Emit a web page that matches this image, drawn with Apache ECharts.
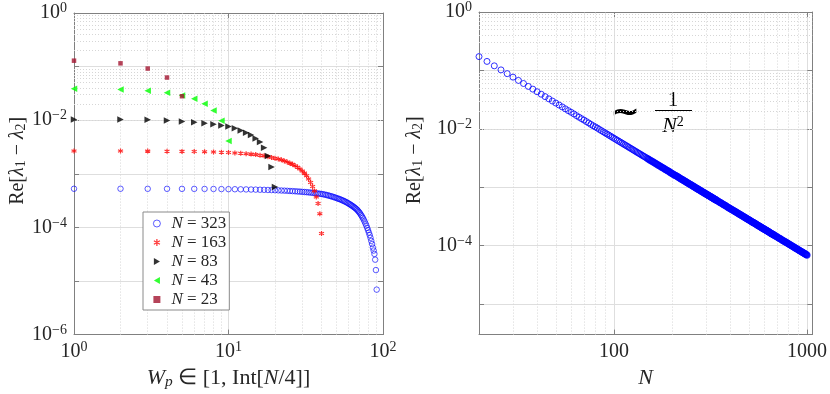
<!DOCTYPE html>
<html><head><meta charset="utf-8">
<script src="https://cdn.jsdelivr.net/npm/echarts@6/dist/echarts.min.js"></script>
<style>html,body{margin:0;padding:0;background:#fff}#c{width:830px;height:394px}</style>
</head><body><div id="c"></div>
<script>
// ---------------- data ----------------
const seriesNames = ['N = 323', 'N = 163', 'N = 83', 'N = 43', 'N = 23'];
// Re[l1-l2] vs Wp = 1,2,3,...
const gap323 = [5.26e-4,5.26e-4,5.25e-4,5.25e-4,5.24e-4,5.23e-4,5.22e-4,5.21e-4,5.19e-4,5.17e-4,
  5.15e-4,5.13e-4,5.11e-4,5.09e-4,5.07e-4,5.04e-4,5.02e-4,4.99e-4,4.97e-4,4.94e-4,
  4.91e-4,4.88e-4,4.85e-4,4.82e-4,4.78e-4,4.75e-4,4.72e-4,4.68e-4,4.65e-4,4.61e-4,
  4.57e-4,4.54e-4,4.50e-4,4.46e-4,4.42e-4,4.38e-4,4.33e-4,4.29e-4,4.24e-4,4.20e-4,
  4.15e-4,4.09e-4,4.03e-4,3.96e-4,3.89e-4,3.82e-4,3.75e-4,3.68e-4,3.61e-4,3.53e-4,
  3.46e-4,3.39e-4,3.32e-4,3.25e-4,3.17e-4,3.10e-4,3.02e-4,2.94e-4,2.86e-4,2.78e-4,
  2.70e-4,2.62e-4,2.54e-4,2.46e-4,2.38e-4,2.30e-4,2.22e-4,2.13e-4,2.03e-4,1.93e-4,
  1.83e-4,1.72e-4,1.61e-4,1.51e-4,1.40e-4,1.29e-4,1.18e-4,1.08e-4,9.8e-5,8.9e-5,
  8.0e-5,7.2e-5,6.4e-5,5.6e-5,4.9e-5,4.2e-5,3.7e-5,3.2e-5,2.5e-5,1.6e-5,6.9e-6];
const gap163 = [2.66e-3,2.66e-3,2.65e-3,2.64e-3,2.62e-3,2.60e-3,2.58e-3,2.55e-3,2.52e-3,2.49e-3,
  2.45e-3,2.41e-3,2.37e-3,2.33e-3,2.28e-3,2.22e-3,2.16e-3,2.09e-3,2.02e-3,1.95e-3,
  1.89e-3,1.82e-3,1.74e-3,1.66e-3,1.58e-3,1.50e-3,1.41e-3,1.32e-3,1.23e-3,1.13e-3,
  1.03e-3,9.2e-4,8.0e-4,6.9e-4,5.8e-4,4.8e-4,3.7e-4,2.8e-4,1.8e-4,7.7e-5];
const gap83 = [1.033e-2,1.03e-2,1.02e-2,9.9e-3,9.5e-3,9.2e-3,8.8e-3,8.4e-3,8.0e-3,7.6e-3,
  7.1e-3,6.45e-3,5.84e-3,5.27e-3,4.58e-3,3.91e-3,3.07e-3,2.14e-3,1.34e-3,5.7e-4];
const gap43 = [0.0385,0.0374,0.0353,0.0324,0.0289,0.0251,0.0202,0.0152,0.0098,0.0041];
const gap23 = [0.129,0.115,0.0919,0.0625,0.028];

// right panel: Re[l1-l2] vs N
const sizeN = [
  20,22,24,26,28,30,32,34,36,38,40,42,44,46,48,50,52,54,56,58,60,62,64,66,68,70,72,74,76,78,80,
  82,84,86,88,90,92,94,96,98,100,102,104,106,108,110,112,114,116,118,120,122,124,126,128,130,
  132,134,136,138,140,142,144,146,148,150,152,154,156,158,160,162,164,166,168,170,172,174,176,178,180,
  182,184,186,188,190,192,194,196,198,200,202,204,206,208,210,212,214,216,218,220,222,224,226,228,230,
  232,234,236,238,240,242,244,246,248,250,252,254,256,258,260,262,264,266,268,270,272,274,276,278,280,
  282,284,286,288,290,292,294,296,298,300,302,304,306,308,310,312,314,316,318,320,322,324,326,328,330,
  332,334,336,338,340,
  344,348,352,356,360,364,368,372,376,380,384,388,392,396,400,404,408,412,416,420,424,428,432,436,440,
  444,448,452,456,460,464,468,472,476,480,484,488,492,496,500,504,508,512,516,520,524,528,532,536,540,
  544,548,552,556,560,564,568,572,576,580,584,588,592,596,600,604,608,612,616,620,624,628,632,636,640,
  644,648,652,656,660,664,668,672,676,680,
  688,696,704,712,720,728,736,744,752,760,768,776,784,792,800,808,816,824,832,840,848,856,864,872,880,
  888,896,904,912,920,928,936,944,952,960,968,976,984,992,1000];
const gapVsN = [
  0.1725,0.1426,0.1198,0.1021,0.0880,0.0767,0.0674,0.0597,0.0532,0.0478,0.0431,0.0391,0.0356,0.0326,0.0299,0.0276,
  0.0255,0.0237,0.0220,0.0205,0.0192,0.0180,0.0168,0.0158,0.0149,0.0141,0.0133,0.0126,0.0119,0.0113,0.0108,
  0.0103,0.00978,0.00933,0.00891,0.00852,0.00815,0.00781,0.00749,0.00718,0.00690,0.00663,0.00638,0.00614,0.00592,0.00570,
  0.00550,0.00531,0.00513,0.00496,0.00479,0.00464,0.00449,0.00435,0.00421,0.00408,
  0.00396,0.00384,0.00373,0.00362,0.00352,0.00342,0.00333,0.00324,0.00315,0.00307,0.00299,0.00291,0.00284,0.00276,0.00270,
  0.002629,0.002565,0.002504,0.002445,0.002388,0.002332,0.002279,0.002228,0.002178,0.002130,
  0.002083,0.002038,0.001994,0.001952,0.001911,0.001872,0.001833,0.001796,0.001760,0.001725,
  0.001691,0.001658,0.001626,0.001595,0.001565,0.001535,0.001507,0.001479,0.001452,0.001426,
  0.001400,0.001375,0.001351,0.001327,0.001304,0.001282,0.001260,0.001239,0.001218,0.001198,
  0.001178,0.001159,0.001140,0.001122,0.001104,0.001087,0.001070,0.001053,0.001037,0.001021,
  0.001005,0.000990,0.000975,0.000961,0.000947,0.000933,0.000919,0.000906,0.000893,0.000880,
  0.000868,0.000855,0.000844,0.000832,0.000820,0.000809,0.000798,0.000788,0.000777,0.000767,
  0.000757,0.000747,0.000737,0.000727,0.000718,0.000709,0.000700,0.000691,0.000682,0.000674,
  0.000665,0.000657,0.000649,0.000641,0.000634,0.000626,0.000619,0.000611,0.000604,0.000597,
  0.000583,0.000570,0.000557,0.000544,0.000532,0.000521,0.000510,0.000499,0.000488,0.000478,
  0.000468,0.000458,0.000449,0.000440,0.000431,0.000423,0.000415,0.000407,0.000399,0.000391,
  0.000384,0.000377,0.000370,0.000363,0.000356,0.000350,0.000344,0.000338,0.000332,0.000326,
  0.000320,0.000315,0.000310,0.000305,0.000299,0.000295,0.000290,0.000285,0.000280,0.000276,
  0.000272,0.000267,0.000263,0.000259,0.000255,0.000251,0.000248,0.000244,0.000240,0.000237,
  0.000233,0.000230,0.000226,0.000223,0.000220,0.000217,0.000214,0.000211,0.000208,0.000205,
  0.000202,0.000200,0.000197,0.000194,0.000192,0.000189,0.000187,0.000184,0.000182,0.000180,
  0.000177,0.000175,0.000173,0.000171,0.000168,0.000166,0.000164,0.000162,0.000160,0.000158,
  0.000156,0.000155,0.000153,0.000151,0.000149,
  0.0001458,0.0001424,0.0001392,0.0001361,0.0001331,0.0001302,0.0001274,0.0001247,0.0001220,0.0001195,
  0.0001170,0.0001146,0.0001123,0.0001100,0.0001078,0.0001057,0.0001036,0.0001016,0.0000997,0.0000978,
  0.0000960,0.0000942,0.0000924,0.0000907,0.0000891,0.0000875,0.0000859,0.0000844,0.0000830,0.0000815,
  0.0000801,0.0000788,0.0000774,0.0000761,0.0000749,0.0000736,0.0000724,0.0000713,0.0000701,0.0000690];

// tick labels
const leftXTickExps = [0, 1, 2];
const leftYTickExps = [0, -2, -4, -6];
const rightXTickLabels = ['100', '1000'];
const rightYTickExps = [0, -2, -4];

// ---------------- chart ----------------
const F = 'Liberation Serif';
const TXT = '#262626';
const AX = '#808080';
const MAJ = '#dedede';
const MIN = '#d6d6d6';

const richTick = {
  b: {fontFamily: F, fontSize: 20, lineHeight: 23, color: TXT},
  s: {fontFamily: F, fontSize: 14, lineHeight: 12, verticalAlign: 'top', color: TXT}
};
function expFormatter(exps) {
  return function (v) {
    const l = Math.log10(v), e = Math.round(l);
    if (Math.abs(l - e) > 1e-6 || exps.indexOf(e) < 0) return '';
    return '{b|10}{s|' + (e < 0 ? '\u2212' + (-e) : e) + '}';
  };
}
function plainFormatter(labels) {
  return function (v) {
    const s = String(Math.round(v));
    return (Math.abs(v - Math.round(v)) < 1e-6 && labels.indexOf(s) >= 0) ? '{b|' + s + '}' : '';
  };
}
function minorVals(lo, hi) {
  const out = [];
  for (let e = -7; e < 4; e++) for (let k = 2; k <= 9; k++) {
    const v = k * Math.pow(10, e);
    if (v > lo * 1.0001 && v < hi * 0.9999) out.push(v);
  }
  return out;
}
function richName(fs) {
  return {
    n: {fontFamily: F, fontSize: fs, color: TXT},
    i: {fontFamily: F, fontSize: fs, fontStyle: 'italic', color: TXT},
    sub: {fontFamily: F, fontSize: fs * 0.7, verticalAlign: 'bottom', lineHeight: 14, color: TXT},
    isub: {fontFamily: F, fontSize: fs * 0.7, fontStyle: 'italic', verticalAlign: 'bottom', lineHeight: 14, color: TXT}
  };
}
const yName = '{n|Re[}{i|\u03BB}{sub|1}{n| \u2212 }{i|\u03BB}{sub|2}{n|]}';

function mainX(grid, min, max, fmt, name, gap, fs) {
  return {type: 'log', logBase: 10, gridIndex: grid, min: min, max: max, position: 'bottom',
    axisLine: {show: true, lineStyle: {color: AX, width: 1}},
    axisTick: {show: true, inside: true, length: 5, lineStyle: {color: AX}},
    axisLabel: {formatter: fmt, rich: richTick, margin: 6, interval: 0, showMinLabel: true, showMaxLabel: true},
    splitLine: {show: true, lineStyle: {color: MAJ, width: 1}},
    name: name, nameLocation: 'middle', nameGap: gap,
    nameTextStyle: {rich: richName(fs)}};
}
function sideX(grid, min, max) {
  return {type: 'log', logBase: 10, gridIndex: grid, min: min, max: max, position: 'top',
    axisLine: {show: true, lineStyle: {color: AX, width: 1}},
    axisTick: {show: true, inside: true, length: 5, lineStyle: {color: AX}},
    axisLabel: {show: false}, splitLine: {show: false}};
}
function mainY(grid, min, max, fmt, gap) {
  return {type: 'log', logBase: 10, gridIndex: grid, min: min, max: max, position: 'left',
    axisLine: {show: true, lineStyle: {color: AX, width: 1}},
    axisTick: {show: true, inside: true, length: 5, lineStyle: {color: AX}},
    axisLabel: {formatter: fmt, rich: richTick, margin: 7, interval: 0, showMinLabel: true, showMaxLabel: true},
    splitLine: {show: true, lineStyle: {color: MAJ, width: 1}},
    name: yName, nameLocation: 'middle', nameGap: gap,
    nameTextStyle: {rich: richName(20), padding: [0, 0, 0, 26]}};
}
function sideY(grid, min, max) {
  return {type: 'log', logBase: 10, gridIndex: grid, min: min, max: max, position: 'right',
    axisLine: {show: true, lineStyle: {color: AX, width: 1}},
    axisTick: {show: true, inside: true, length: 5, lineStyle: {color: AX}},
    axisLabel: {show: false}, splitLine: {show: false}};
}
function gridSeries(xi, yi, xmin, xmax, ymin, ymax) {
  const d = [];
  minorVals(xmin, xmax).forEach(v => d.push({xAxis: v}));
  minorVals(ymin, ymax).forEach(v => d.push({yAxis: v}));
  return {type: 'scatter', name: '_grid' + xi, xAxisIndex: xi, yAxisIndex: yi, data: [], silent: true, z: 1,
    markLine: {silent: true, z: 1, animation: false, symbol: ['none', 'none'], label: {show: false},
      lineStyle: {color: MIN, width: 1, type: [1, 2]}, emphasis: {disabled: true}, data: d}};
}
const idx = arr => arr.map((v, i) => [i + 1, v]);
const asterisk = 'path://M5 0L5 10M0.67 2.5L9.33 7.5M0.67 7.5L9.33 2.5';
const triRight = 'path://M0 0L8.66 5L0 10Z';
const triLeft = 'path://M8.66 0L0 5L8.66 10Z';

const styles = [
  {symbol: 'circle', size: 5.5, item: {color: 'rgba(0,0,255,0)', borderColor: '#0000ff', borderWidth: 0.8}},
  {symbol: asterisk, size: 5, item: {color: 'rgba(255,0,0,0)', borderColor: '#ff0000', borderWidth: 1.2}},
  {symbol: triRight, size: 6.5, item: {color: '#000000'}},
  {symbol: triLeft, size: 6.5, item: {color: '#00ff00'}},
  {symbol: 'rect', size: 4.5, item: {color: '#a2142f'}}
];
const leftData = [gap323, gap163, gap83, gap43, gap23];

const LX = [1, 100], LY = [1e-6, 1], RX = [20, 1065], RY = [3e-6, 1];

// right-panel points: where markers pile up densely, use a slightly heavier outline
const rightPoints = sizeN.map((n, i) => ({
  value: [n, gapVsN[i]],
  symbolSize: n >= 150 ? 5.6 : 6,
  itemStyle: {borderWidth: n >= 300 ? 1.7 : (n >= 150 ? 1.4 : 1.0)}
}));

const option = {
  animation: false,
  backgroundColor: '#fff',
  grid: [
    {left: 74, top: 13, width: 309, height: 323},
    {left: 479, top: 12, width: 338, height: 326}
  ],
  xAxis: [
    mainX(0, LX[0], LX[1], expFormatter(leftXTickExps),
      '{i|W}{isub|p}{n| \u2208 [1, Int[}{i|N}{n|/4]]}', 32, 22),
    sideX(0, LX[0], LX[1]),
    mainX(1, RX[0], RX[1], plainFormatter(rightXTickLabels), '{i|N}', 30, 22),
    sideX(1, RX[0], RX[1])
  ],
  yAxis: [
    mainY(0, LY[0], LY[1], expFormatter(leftYTickExps), 45),
    sideY(0, LY[0], LY[1]),
    mainY(1, RY[0], RY[1], expFormatter(rightYTickExps), 54),
    sideY(1, RY[0], RY[1])
  ],
  legend: {
    data: seriesNames.map((n, i) => ({name: n, icon: styles[i].symbol, itemStyle: styles[i].item})),
    orient: 'vertical', left: 143, top: 212,
    padding: [2, 3, 1, 10], itemGap: 0, itemWidth: 7, itemHeight: 7,
    backgroundColor: '#fff', borderColor: '#8a8a8a', borderWidth: 1, borderRadius: 0,
    selectedMode: false,
    formatter: n => '{i|N}{n| = ' + n.split('= ')[1] + '}',
    textStyle: {fontFamily: F, fontSize: 17, lineHeight: 19, color: TXT,
      rich: {i: {fontFamily: F, fontSize: 17, fontStyle: 'italic', color: TXT, padding: [0, 0, 0, 6]},
             n: {fontFamily: F, fontSize: 17, color: TXT}}}
  },
  series: [
    gridSeries(0, 0, LX[0], LX[1], LY[0], LY[1]),
    gridSeries(2, 2, RX[0], RX[1], RY[0], RY[1])
  ].concat(seriesNames.map((n, i) => ({
    name: n, type: 'scatter', xAxisIndex: 0, yAxisIndex: 0, data: idx(leftData[i]), z: 2,
    symbol: styles[i].symbol, symbolSize: styles[i].size, itemStyle: styles[i].item
  }))).concat([
    {name: 'gapN', type: 'scatter', xAxisIndex: 2, yAxisIndex: 2, z: 2,
      data: rightPoints, symbol: 'circle', symbolSize: 6,
      itemStyle: {color: 'rgba(0,0,255,0)', borderColor: '#0000ff', borderWidth: 1.0}}
  ]),
  graphic: [
    {type: 'text', x: 625, y: 114, style: {text: '~', fontFamily: 'DejaVu Sans', fontWeight: 'bold', fontSize: 36, fill: '#000',
      align: 'center', verticalAlign: 'middle'}},
    {type: 'text', x: 673, y: 100, style: {text: '1', fontFamily: F, fontSize: 21, fill: '#000', align: 'center', verticalAlign: 'middle'}},
    {type: 'line', shape: {x1: 655, y1: 110.5, x2: 692, y2: 110.5}, style: {stroke: '#000', lineWidth: 1}},
    {type: 'text', x: 673, y: 126, style: {text: '{i|N}{s|2}', align: 'center', verticalAlign: 'middle',
      rich: {i: {fontFamily: F, fontSize: 22, fontStyle: 'italic', fill: '#000', lineHeight: 22},
             s: {fontFamily: F, fontSize: 14, fill: '#000', verticalAlign: 'top', lineHeight: 12}}}}
  ]
};
const chart = echarts.init(document.getElementById('c'), null, {renderer: 'canvas'});
chart.setOption(option);
</script>
</body></html>
